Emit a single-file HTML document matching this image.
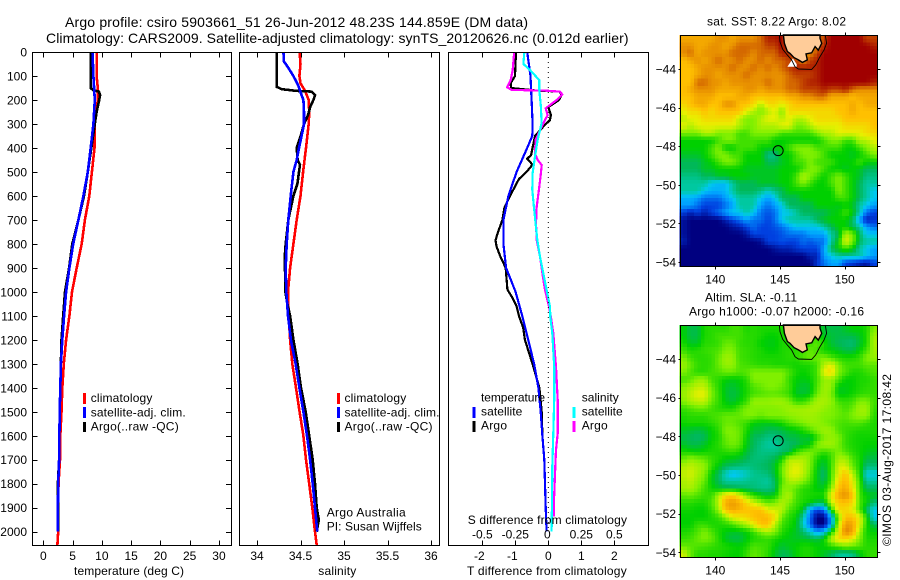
<!DOCTYPE html>
<html lang="en">
<head>
<meta charset="utf-8">
<title>Argo profile chart</title>
<style>
html,body{margin:0;padding:0;background:#fff;}
svg{display:block;font-family:"Liberation Sans",Arial,sans-serif;font-size:12px;fill:#000;}
.t14{font-size:14px;}
</style>
</head>
<body>
<svg id="chart" xmlns="http://www.w3.org/2000/svg" width="900" height="580" viewBox="0 0 900 580">
<rect x="0" y="0" width="900" height="580" fill="#fff"/>
<g id="maps"></g>
<g id="series"></g>
<g id="frames"></g>
<g id="ticklabels"></g>

<text class="t14" x="65" y="27" textLength="463" lengthAdjust="spacing">Argo profile: csiro 5903661_51 26-Jun-2012 48.23S 144.859E (DM data)</text>
<text class="t14" x="46" y="43" textLength="582.5" lengthAdjust="spacing">Climatology: CARS2009. Satellite-adjusted climatology: synTS_20120626.nc (0.012d earlier)</text>

<text x="74" y="575" textLength="110" lengthAdjust="spacing">temperature (deg C)</text>
<text x="318.3" y="575" textLength="38" lengthAdjust="spacing">salinity</text>
<text x="467" y="575" textLength="159.7" lengthAdjust="spacing">T difference from climatology</text>
<text x="467.7" y="524" textLength="159.3" lengthAdjust="spacing">S difference from climatology</text>

<g>
<rect x="83" y="393" width="3" height="11" fill="#f00"/>
<rect x="83" y="407" width="3" height="11" fill="#00f"/>
<rect x="83" y="422" width="3" height="10" fill="#000"/>
<text x="90.7" y="402" textLength="61.7" lengthAdjust="spacing">climatology</text>
<text x="90.7" y="416.5" textLength="95" lengthAdjust="spacing">satellite-adj. clim.</text>
<text x="90.7" y="430.5" textLength="88" lengthAdjust="spacing">Argo(..raw -QC)</text>
</g>
<g>
<rect x="337" y="393" width="3" height="11" fill="#f00"/>
<rect x="337" y="407" width="3" height="11" fill="#00f"/>
<rect x="337" y="422" width="3" height="10" fill="#000"/>
<text x="344.5" y="402" textLength="61.7" lengthAdjust="spacing">climatology</text>
<text x="344.5" y="416.5" textLength="95" lengthAdjust="spacing">satellite-adj. clim.</text>
<text x="344.5" y="430.5" textLength="88" lengthAdjust="spacing">Argo(..raw -QC)</text>
</g>
<g>
<text x="481" y="401.5" textLength="64" lengthAdjust="spacing">temperature</text>
<text x="481" y="415.5" textLength="41.3" lengthAdjust="spacing">satellite</text>
<text x="481" y="429.5" textLength="26" lengthAdjust="spacing">Argo</text>
<rect x="472.5" y="407" width="3" height="11" fill="#00f"/>
<rect x="472.5" y="421" width="3" height="11" fill="#000"/>
<text x="581.7" y="401.5" textLength="37" lengthAdjust="spacing">salinity</text>
<text x="581.7" y="415.5" textLength="41" lengthAdjust="spacing">satellite</text>
<text x="581.7" y="429.5" textLength="26" lengthAdjust="spacing">Argo</text>
<rect x="572.5" y="407" width="3" height="11" fill="#0ff"/>
<rect x="572.5" y="421" width="3" height="11" fill="#f0f"/>
</g>
<text x="326.7" y="516.5" textLength="79" lengthAdjust="spacing">Argo Australia</text>
<text x="326.7" y="530.5" textLength="95" lengthAdjust="spacing">PI: Susan Wijffels</text>

<text x="707" y="25.5" textLength="139" lengthAdjust="spacing">sat. SST: 8.22 Argo: 8.02</text>
<text x="705" y="301.5" textLength="92" lengthAdjust="spacing">Altim. SLA: -0.11</text>
<text x="689" y="315.5" textLength="175" lengthAdjust="spacing">Argo h1000: -0.07 h2000: -0.16</text>
<text transform="translate(891,546) rotate(-90)" x="0" y="0" textLength="172" lengthAdjust="spacing">©IMOS 03-Aug-2017 17:08:42</text>
</svg>

<script>
// ---------- profile data ----------
const depthTicks = [0,100,200,300,400,500,600,700,800,900,1000,1100,1200,1300,1400,1500,1600,1700,1800,1900,2000];
const tempTicks = [0,5,10,15,20,25,30];
const salTicks = [34,34.5,35,35.5,36];
const salTickLabels = ['34','34.5','35','35.5','36'];
const tDiffTicks = [-2,-1,0,1,2];
const tDiffTickLabels = ['-2','-1','0','1','2'];
const sDiffTicks = [-0.5,-0.25,0,0.25,0.5];
const sDiffTickLabels = ['-0.5','-0.25','0','0.25','0.5'];
const lonTicks = [140,145,150];
const latTicks = [-44,-46,-48,-50,-52,-54];

const climDepth = [0,100,150,200,300,400,500,600,700,800,900,1000,1100,1200,1300,1400,1500,1600,1700,1800,1900,2000,2055];
const climTemp = [9.1,9.1,9.3,9.3,8.8,8.75,8.3,7.85,7.1,6.55,5.7,4.9,4.45,3.9,3.5,3.25,3.1,2.9,2.85,2.6,2.55,2.55,2.4];

const satTempDepth = [0,100,200,300,400,500,600,700,800,900,1000,1100,1200,1300,1400,1500,1600,1700,1800,1900,2000];
const satTemp = [8.4,8.55,8.8,8.55,8.1,7.6,6.85,6,5.1,4.45,3.9,3.55,3.25,3,2.9,2.8,2.75,2.7,2.55,2.5,2.5];

const argoTempDepth = [0,100,150,160,165,180,200,250,300,400,500,600,700,800,900,1000,1100,1200,1300,1400,1500,1600,1700,1800,1900,2000];
const argoTemp = [8.1,8.1,8.1,8.55,9.5,9.7,9.55,9.1,8.8,8.2,7.6,6.95,6,4.95,4.4,3.7,3.4,3.1,3,2.9,2.8,2.75,2.7,2.5,2.55,2.55];

const climSalDepth = [0,50,100,130,160,200,250,300,400,500,600,700,800,900,1000,1100,1200,1300,1400,1500,1600,1700,1800,1900,2000,2055];
const climSal = [34.49,34.5,34.487,34.5,34.55,34.594,34.6,34.594,34.563,34.53,34.5,34.456,34.418,34.38,34.356,34.364,34.38,34.406,34.448,34.49,34.533,34.563,34.6,34.636,34.667,34.686];

const satSalDepth = [0,40,60,100,140,180,200,250,300,350,400,450,500,600,700,800,900,1000,1100,1200,1300,1400,1500,1600,1700,1800,1900,2000];
const satSal = [34.303,34.31,34.349,34.418,34.475,34.513,34.533,34.54,34.54,34.513,34.483,34.456,34.418,34.387,34.36,34.341,34.33,34.337,34.356,34.39,34.444,34.487,34.533,34.575,34.61,34.64,34.667,34.693];

const argoSalDepth = [0,100,145,155,162,165,180,200,230,260,300,350,400,450,470,500,550,600,700,800,850,1000,1050,1100,1200,1300,1400,1500,1600,1700,1800,1900,1950,2000];
const argoSal = [34.226,34.226,34.226,34.284,34.456,34.628,34.667,34.648,34.61,34.59,34.54,34.502,34.456,34.467,34.494,34.483,34.464,34.418,34.36,34.33,34.32,34.326,34.349,34.38,34.418,34.467,34.506,34.56,34.6,34.64,34.667,34.686,34.71,34.686];

const satTDiffDepth = [0,100,150,200,300,350,400,500,600,700,800,900,1000,1100,1200,1300,1400,1500,1600,1700,1800,1900,2000];
const satTDiff = [-0.64,-0.54,-0.525,-0.505,-0.475,-0.485,-0.64,-0.96,-1.21,-1.36,-1.36,-1.28,-0.99,-0.79,-0.61,-0.43,-0.3,-0.23,-0.18,-0.12,-0.1,-0.08,-0.05];

const argoTDiffDepth = [0,100,130,150,160,165,180,200,230,263,284,311,350,400,430,445,470,500,530,600,650,700,750,785,810,850,900,990,1020,1060,1100,1150,1200,1300,1400,1500,1600,1700,1800,1900,2000];
const argoTDiff = [-0.98,-1.01,-1.14,-1.13,-0.4,0.35,0.4,0.32,0,0.08,0.05,-0.15,-0.4,-0.48,-0.52,-0.64,-0.48,-0.66,-0.89,-1.16,-1.33,-1.39,-1.52,-1.6,-1.57,-1.46,-1.29,-1.24,-1.11,-0.96,-0.89,-0.76,-0.71,-0.48,-0.27,-0.2,-0.18,-0.12,-0.1,-0.08,-0.05];

const satSDiffDepth = [0,50,75,117,158,228,297,367,436,506,575,645,714,784,853,923,992,1062,1104,1173,1312,1451,1590,1729,1868,2000];
const satSDiff = [-0.182,-0.189,-0.139,-0.068,-0.068,-0.056,-0.051,-0.081,-0.101,-0.119,-0.121,-0.109,-0.096,-0.083,-0.063,-0.038,-0.013,0.013,0.015,0.03,0.045,0.045,0.038,0.03,0.028,0.025];

const argoSDiffDepth = [0,75,117,147,158,161,165,177,200,235,263,284,311,367,423,450,471,506,575,645,714,784,853,923,992,1062,1104,1173,1312,1451,1590,1659,1729,1868,1937];
const argoSDiff = [-0.258,-0.27,-0.285,-0.311,-0.278,-0.025,0.088,0.106,0.063,-0.02,-0.005,-0.025,-0.05,-0.096,-0.101,-0.081,-0.05,-0.056,-0.071,-0.088,-0.093,-0.088,-0.063,-0.045,-0.025,0.005,0.02,0.038,0.058,0.071,0.071,0.058,0.053,0.043,0.043];

// ---------- map data (colour-scale level per cell; rows north to south) ----------
const sstGrid = [
[7.5,7.5,7.5,7.5,7.5,8,8,7.5,8,8,8,8.5,9.5,9.5,10,8,8,8,8,8,9,10,10,10,10,10,9,9],
[8,8,7.5,7.5,8,8,7.5,8,8.5,8.5,8.5,8.5,9,9,10,8,8,8,8,8,9.5,10,10,10,10,10,10,9.5],
[8,8.5,7.5,8,8,8,8,8.5,8.5,8.5,8,8.5,8.5,8.5,9.5,9.5,8,8,8,9,10,10,10,10,10,10,10,10],
[7,7.5,8,7.5,8,8.5,8,8,8.5,8,8,8.5,8,8.5,8.5,9,9,8,9,9.5,10,10,10,10,10,10,10,10],
[7,7,7.5,8,8,8,8,8.5,8,8,8.5,8,8.5,8,8.5,9,9.5,9.5,9.5,9.5,10,10,10,10,10,10,10,10],
[7,7,7.5,8,8,7.5,8,8,8,8.5,8,8,8,8,8,8.5,9,9,9,9.5,10,10,10,10,10,10,10,10],
[7,7,8.5,8.5,8,8,7.5,8,8,8,8,8,8.5,8,8,8.5,8.5,9,9.5,9.5,10,10,10,10,10,10,10,9.5],
[7,7.5,8,8,8,7.5,7.5,7.5,7.5,8,8,7.5,8,8,8,8.5,8.5,9,9,9,9.5,9,9,9.5,8.5,8,8,8],
[7,7,7.5,7.5,7.5,7,7,7,7.5,7.5,7,7,7,7,7,7.5,7.5,8,8,8.5,8.5,7.5,7.5,7.5,7,7.5,7.5,7.5],
[6.5,7,7.5,7.5,7,7,8,8,7,7,6.5,5.5,6.5,6.5,6,6.5,7,7,7,7,7,7,7,7,7.5,7,7.5,7.5],
[6,6.5,6.5,7,6.5,7,7,7,7,6,5.5,5,5.5,6,5,6.5,6.5,6.5,6.5,6.5,6.5,6.5,7,7,7.5,7,7,7],
[5.5,6,6,6.5,6.5,6.5,6.5,6.5,5.5,5,5,5.5,6,6,5.5,6,5.5,5.5,6,6.5,6.5,6.5,6.5,7,7,7,7,7],
[6,5.5,6,6,6,6,6,6,5.5,5,5,5.5,5.5,5.5,6,6,5,5,5.5,6,6,6,6,6.5,6.5,6.5,6.5,7],
[5,5,5,5.5,5.5,5,5,5,4.5,4.5,5,5,5,5,4.5,4.5,4.5,4.5,4.5,5,5.5,5.5,6,6,6,6,6.5,6.5],
[4,4,4,4,4,4.5,5,5,4.5,4.5,4.5,4.5,4.5,4,4,4,4,4,4,4,4.5,5,5,4.5,4.5,5.5,5.5,6],
[4,4,4,4,4.5,5,4,4,4.5,4.5,4.5,4,4,4,4,4.5,5,5,5,4.5,4.5,4.5,4.5,4,4,4.5,5,5.5],
[3.8,3.8,3.8,4,4.5,5,5,4.5,4.5,4,4,4,3.2,3.2,4,4,4.5,5,5,5,4.5,4,4,4,3.8,4,4.5,5],
[3.5,3.5,3.5,3.8,4,4.5,5,5,4.5,4,4,4,3.5,3.5,3.8,4,4.5,4.5,5,4.5,4.5,4.5,4,4,4,4.5,4,4],
[3.5,3.5,3.5,3.8,3.8,4,4,4,4,3.8,3.8,3.8,3.8,3.8,4,4,4,4.5,5,5,4.5,4,4,3.8,4,3.8,3.5,3.5],
[3.2,3.2,3.2,3.5,3.5,3.8,3.8,4,4,4,3.8,3.8,3.8,3.8,4,4,4.5,5.5,5,4.5,4,4.5,5,4.5,4,3.8,3.2,3.2],
[3,3,3,3,2.5,2.3,2.3,3,3.5,3.5,3.5,3.8,3.8,3.8,4,4,4.5,5,4.5,4,4,4.5,5,4.5,4,3.5,3,3],
[3,3,3,2.5,2.2,2.2,2.3,3,3.5,3.5,3.5,3.2,2.8,3.2,3.5,4,4,4,4,4,4,4,5,4.5,4,3.5,3,2.5],
[2.2,2.2,2,1.5,1.5,1.5,2,2.5,3,3,3,2.5,2,2.5,3.5,3.5,3.5,4,4,4,4,4,4.5,4.5,4,3.5,3,2.5],
[2,2,1.5,1,1,1,1.5,2,3,3,3,2,1.5,2,2.5,3.5,3.5,3.5,3.5,4,4,4,3.8,4,3.8,3,2.5,2],
[1,0.5,1,0.5,1,1.5,2,2.5,2.5,3,2.5,1.5,1.2,1.5,2.5,2.5,3,3.5,3.5,3.5,3.5,3.8,4,4.5,4,3,1.5,1],
[0.3,0,0,0,0,0,0.5,1,1.5,2,1.5,1.5,1,1.5,2.5,3,3,3,3,3.5,3.8,4,4,4,3.5,2,0.5,0.8],
[0.3,0,0,0,0,0,0,0.3,0.5,1,1.5,1,1,1.2,1.5,2,2.5,2.5,2.5,2.5,3,3.5,4,4,3.5,3,2,1.5],
[0.3,0,0,0,0,0,0,0,0,0.3,1,1,1,1,1.2,1.5,1.5,1.5,2,2,2,3,3.5,5.5,5,3.5,2.5,2.5],
[0.5,0,0,0,0,0,0,0,0,0,0,0.2,1,1,1.2,1,1,1.5,1.2,1.5,1.5,3,4,6,5,3.5,3,3],
[0,0,0,0,0,0,0,0,0,0,0,0,0,0.3,0.5,0.5,0.8,1,1,1,2,3.5,4,4.5,4,3,2.5,2],
[0,0,0,0,0,0,0,0,0,0,0,0,0,0,0,0,0,0,0.5,0.5,2,2.5,3,3,3,3,2.5,2],
[0,0,0,0,0,0,0,0,0,0,0,0,0,0,0,0,0,0,0,0.8,1.5,2,2,1,0.8,0.5,0.3,1]
];
const slaGrid = [
[4,3.6,3.6,4.2,4.3,4.3,4.3,4.5,4.5,4.2,4.3,4.2,4.2,4.2,4.2,4,4,4,4,4,3.7,3.6,3.6,3.8,4,4,4.2,5],
[4,3.6,3.6,4.2,4.3,4.5,4.5,4.5,4.5,4.3,4.3,4.2,4,4,4.2,4.2,4,4,4,4.2,3.8,3.7,3.6,3.6,3.6,3.8,4.2,5.3],
[4.2,3.8,3.8,4.3,4.3,4.4,4.8,4.8,4.4,4.3,4.3,4,3.9,3.9,4.2,4.2,4,4,4.4,4.8,4.2,3.7,3.5,3.4,3.3,3.7,4.2,5.4],
[4.5,4.2,4.3,4.4,4.5,4.6,5,5,4.5,4.4,4.3,4.2,4,4,4.2,4.3,4.3,4.5,4.8,4.5,4.1,4,3.8,3.6,3.6,4,4.5,5.3],
[5,4.5,4.3,4.3,4.4,4.8,5.3,5.2,4.5,4.4,4.3,4.2,4.2,4.2,4.2,4.3,4.3,4.6,4.8,4.8,5,4.6,4.3,4.2,4.2,4.4,5,5.2],
[5.3,4.8,4.4,4.3,4.4,4.8,5.2,5.2,4.6,4.5,4.4,4.3,4.3,4.2,4.2,4.2,4.1,4.2,4.2,4.5,5.5,6,5,4.5,4.5,4.5,4.7,4.7],
[5,4.6,4.3,4.3,4.5,4.6,4.8,4.8,4.6,4.7,5,5,5,5,5,4.6,4.2,4,4.2,4.5,6,6.5,5,4.6,4.2,4.2,4.4,4.6],
[4.5,4.7,5.2,5.2,4.5,4.3,4,3.9,4,4.3,5,5,5,5,5,4.4,4,3.9,4,4.5,5.2,5.2,4.6,4,4,4.2,4.2,4.4],
[5,5.3,5.6,5.6,4.8,4.3,3.8,3.7,3.9,4.2,4.6,4.8,5,5,4.8,4.5,3.9,3.7,3.8,4.6,5.3,5.2,3.9,3.9,4,4.2,4.3,4.4],
[5.2,5.6,6,6,5,4.4,3.8,3.6,3.8,4.2,4.5,4.6,4.7,4.7,4.6,4.4,3.8,3.7,3.9,4.8,5.3,5,3.9,3.9,4.1,4.3,4.4,4.4],
[5,5.4,5.6,5.6,4.8,4.4,3.9,3.7,4,4.4,5.2,5.2,5.2,5.3,5.3,5,4.4,4.4,4.8,5.4,5.4,5.2,4.5,4.4,4.5,5,5,4.5],
[4.4,4.6,4.8,4.8,4.5,4.3,4.2,4.2,4.6,5,5,5,5,5,5.1,5.3,5.3,5.3,5.4,5.4,5.2,5,4.8,4.5,4.8,5.3,5.3,4.4],
[4.2,4.3,4.3,4.3,4.5,4.6,4.8,4.8,4.8,5,5,4.8,5,5,5,5.1,5.2,5.3,5.3,5.2,5,5,4.8,4.7,5,5.2,5.2,4.3],
[4.1,4.2,4.2,4.2,4.3,4.5,4.8,4.8,4.6,4.4,4,3.9,3.9,4,4.2,4.6,4.8,5,5.2,5.2,5,4.8,4.6,4.5,4.6,4.6,4.4,4.2],
[3.8,3.7,3.6,3.7,4,4.3,5,5,4.8,4.2,3.7,3.7,3.5,3.5,3.6,3.8,3.9,4.2,4.6,5,5.3,5.2,4.6,4.4,4.3,4.2,4.2,4.2],
[3.6,3.5,3.4,3.5,4,4.2,4.8,5,4.8,4,3.5,3.4,3.2,3.2,3.4,3.6,3.6,3.8,3.6,4.3,5,5.2,5,4.4,4.2,4.1,4.1,4.1],
[3.8,3.6,3.6,3.8,4.1,4.3,4.7,4.9,4.7,3.9,3.5,3.2,3,3,3.3,3.4,3.5,3.8,4,5,5.3,5.3,4.9,4.4,4.2,4.1,4,4],
[4.2,4.1,4,4.1,4.2,4.2,4.3,4.4,4.2,3.7,3.4,3.2,3.2,3.2,3.4,3.5,4.4,4.8,5,4.7,4.4,4.6,5,4.6,4.3,4.1,3.9,3.8],
[4.8,5.2,5,4.8,4.4,4.2,3.9,3.8,3.7,3.5,3.3,3.3,3.4,3.6,4.2,5.5,5.5,5.5,5,4.2,3.8,4.4,5.4,5.4,4.6,4.2,3.6,3.6],
[5.4,5.6,5.4,5.2,4.4,3.9,3.5,3.4,3.3,3.2,3.3,3.4,3.5,3.8,4.8,5.6,6,5.6,5,4,3.6,4.4,5.8,5.8,4.8,4.2,3.3,3.3],
[5.6,5.8,5.4,5,4,3.5,2.8,2.3,2.5,2.8,3.1,3.2,3.3,3.7,4.8,5.8,6,5.6,4.8,3.9,3.3,4.5,6,7,5.5,4.3,2.6,2.6],
[5.4,5.6,5.2,4.8,3.9,3.5,3,3,3,3.1,3.2,3.1,3,3.5,4.6,5.4,5.5,5.1,4.6,3.9,3.5,4.5,6.5,7.2,6,4.5,3,3],
[5.3,5.4,5,4.5,4.1,3.8,3.7,3.6,3.5,3.4,3.3,3.2,3.2,3.4,5,5,4.7,4.3,4.2,3.9,3.9,5,7,7.5,6.3,4.5,3.5,3.5],
[4.7,4.8,4.6,4.4,4.4,5.4,6.5,6.8,6,5,4.4,4,3.8,4,5,5.5,4.6,4.3,4.2,4.2,4.2,6,7.5,8,7,4.5,4,3.8],
[4.3,4.3,4.2,4.2,4.6,5.5,7.4,7.8,7.4,6.5,5.8,5.2,4.8,5,5.5,5,4.5,4.2,4,3.6,3.6,5.5,6.8,7,6.5,4.6,4,3.3],
[4.1,4.1,4,4,4.4,5.2,7,7.5,7.2,7,7,7,6,5.8,5.5,4.6,4.3,3.8,2,1,1.5,4,6.5,6.5,6,4.6,3.4,2.5],
[4,4,4,4,4.2,4.4,5,6,6.2,6.5,7,7.2,7.2,6.4,4.8,4.3,4,3,1.5,0,0,2,5,7,7,6,4.3,2.5],
[4,4,4.4,4.4,4.2,4.2,4.3,4.5,5,5.4,6,7,7,5.5,4.5,4.2,3.9,2.8,1.5,0,0,2,5.5,7.8,7.6,6,4.2,3.5],
[4.2,4.3,4.6,5,4.6,4.2,3.9,3.8,3.8,4,4.4,5,5.3,5,4.3,4,3.8,3.4,2.8,2,2.5,4,6,8.3,7.6,5.3,4.1,4],
[4.4,4.5,4.8,5,4.8,4.3,3.8,3.6,3.6,3.9,4.2,4.3,4.4,4.2,4,3.9,3.8,3.8,3.7,3.6,4,5.5,6.5,6.5,6,5,4.2,4.2],
[4.8,4.7,4.6,4.5,4.4,4.3,4.2,4.1,4,4.2,4.6,4.5,4.4,4,3.7,3.9,4,4.2,4.2,4,4,4.3,4.6,5,4.8,4.6,4.3,4.3],
[5.8,4.8,4.3,4.3,4.2,4.2,4.1,4,4,4.4,4.8,4.6,4.3,3.8,3.5,3.6,4,4.2,4.2,4,3.8,3.5,3.1,3,3.2,3.8,4.3,4.4]
];
const coastLon = [145.26,145.34,145.57,145.77,146.08,146.42,146.73,147.11,147.01,147.45,147.71,147.96,148.22,148.09,148.09];
const coastLat = [-42.24,-42.67,-43.1,-43.19,-43.41,-43.53,-43.66,-43.53,-43.22,-43.16,-42.84,-43.02,-42.67,-42.41,-42.24];
const contourLon = [144.95,145.0,145.21,145.57,145.9,146.16,146.42,147.45,147.76,148.09,148.4,148.6,148.5];
const contourLat = [-42.24,-42.59,-42.98,-43.28,-43.53,-43.88,-44,-44.02,-43.79,-43.36,-43.02,-42.67,-42.24];
const missingLon = [145.57,146.0,146.29,146.29,145.57];
const missingLat = [-43.88,-43.45,-43.75,-43.88,-43.88];
const floatLon = 144.859;
const floatLat = -48.23;

// ---------- scales ----------
const NS = 'http://www.w3.org/2000/svg';
const depthY = d => 52 + d * 0.23985;
const tempX = t => 43.3 + t * 5.855;
const salX = s => 257 + (s - 34) * 87;
const diffX = t => 548.3 + t * 33;
const sDiffX = s => diffX(s * 4);
const lonX = lon => 715.3 + (lon - 140) * 12.94;
const sstY = lat => 69 + (-44 - lat) * 19.3;
const slaY = lat => 359 + (-44 - lat) * 19.33;
const gridLonMin = 137.25, gridLonMax = 152.5, gridLatTop = -42.25, gridLatBottom = -54.25;

const colourStops = [
 [0,[0,0,128]],[1,[0,64,224]],[2,[0,160,255]],[2.5,[0,200,240]],[3,[0,200,160]],[3.5,[0,184,88]],
 [4,[0,208,0]],[5,[128,240,0]],[6,[232,240,0]],[7,[255,192,0]],[8,[232,144,0]],[9,[192,64,0]],[10,[160,0,0]]
];
function levelColour(v){
  for (let i = 1; i < colourStops.length; i++){
    if (v <= colourStops[i][0]){
      const a = colourStops[i-1], b = colourStops[i];
      const f = (v - a[0]) / (b[0] - a[0]);
      const c = a[1].map((x, k) => Math.round(x + (b[1][k] - x) * f));
      return 'rgb(' + c.join(',') + ')';
    }
  }
  return 'rgb(160,0,0)';
}
function mk(tag, parent, attrs){
  const e = document.createElementNS(NS, tag);
  for (const k in attrs) e.setAttribute(k, attrs[k]);
  parent.appendChild(e);
  return e;
}
function pathFrom(xs, ys){
  return xs.map((x, i) => (i ? 'L' : 'M') + x.toFixed(1) + ' ' + ys[i].toFixed(1)).join('');
}

// ---------- series ----------
const seriesG = document.getElementById('series');
function drawLine(values, depths, xf, colour, name, width){
  const p = mk('path', seriesG, {
    d: pathFrom(values.map(xf), depths.map(depthY)),
    fill: 'none', stroke: colour, 'stroke-width': width, 'stroke-linejoin': 'miter', 'shape-rendering': 'crispEdges'
  });
  
  
}
drawLine(climTemp, climDepth, tempX, '#f00', 'temperature-climatology-line', 2.6);
drawLine(argoTemp, argoTempDepth, tempX, '#000', 'temperature-argo-line', 2.6);
drawLine(satTemp, satTempDepth, tempX, '#00f', 'temperature-satellite-line', 2.6);
drawLine(climSal, climSalDepth, salX, '#f00', 'salinity-climatology-line', 2.6);
drawLine(argoSal, argoSalDepth, salX, '#000', 'salinity-argo-line', 2.6);
drawLine(satSal, satSalDepth, salX, '#00f', 'salinity-satellite-line', 2.6);
drawLine(argoTDiff, argoTDiffDepth, diffX, '#000', 't-difference-argo-line', 2.2);
drawLine(satTDiff, satTDiffDepth, diffX, '#00f', 't-difference-satellite-line', 2.2);
drawLine(argoSDiff, argoSDiffDepth, sDiffX, '#f0f', 's-difference-argo-line', 2.2);
drawLine(satSDiff, satSDiffDepth, sDiffX, '#0ff', 's-difference-satellite-line', 2.2);

// ---------- zero line ----------
const framesG = document.getElementById('frames');
const zeroLine = mk('line', seriesG, {x1: diffX(0), x2: diffX(0), y1: depthY(0), y2: depthY(2000), stroke: '#000', 'stroke-width': 1, 'stroke-dasharray': '1 4'});



// ---------- frames and ticks ----------
function drawFrame(x0, x1, y0, y1, name){
  const r = mk('rect', framesG, {x: x0, y: y0, width: x1 - x0, height: y1 - y0, fill: 'none', stroke: '#000', 'stroke-width': 1, 'shape-rendering': 'crispEdges'});
  
  
}
function tick(x1, y1, x2, y2){
  const l = mk('line', framesG, {x1: x1, y1: y1, x2: x2, y2: y2, stroke: '#000', 'stroke-width': 1, 'shape-rendering': 'crispEdges'});
  
  
}
const labelsG = document.getElementById('ticklabels');
function label(x, y, str, anchor){
  const t = mk('text', labelsG, {x: x, y: y, 'text-anchor': anchor});
  t.textContent = str;
  
  
}
const panelTop = 52.5, panelBottom = 545.5;
drawFrame(32.5, 231.5, panelTop, panelBottom, 'temperature-panel-frame');
drawFrame(239.5, 439.5, panelTop, panelBottom, 'salinity-panel-frame');
drawFrame(448.5, 648.5, panelTop, panelBottom, 'difference-panel-frame');

depthTicks.forEach(d => {
  const y = Math.round(depthY(d)) + 0.5;
  tick(32.5, y, 37.5, y);
  tick(226, y, 231.5, y);
  label(27, depthY(d) + 4.5, String(d), 'end');
});
tempTicks.forEach(t => {
  const x = Math.round(tempX(t)) + 0.5;
  tick(x, panelTop, x, panelTop + 5);
  tick(x, panelBottom, x, panelBottom - 5);
  label(tempX(t), 560, String(t), 'middle');
});
salTicks.forEach((s, i) => {
  const x = Math.round(salX(s)) + 0.5;
  tick(x, panelTop, x, panelTop + 5);
  tick(x, panelBottom, x, panelBottom - 5);
  label(salX(s), 560, salTickLabels[i], 'middle');
});
tDiffTicks.forEach((t, i) => {
  const x = Math.round(diffX(t)) + 0.5;
  tick(x, panelTop, x, panelTop + 5);
  tick(x, panelBottom, x, panelBottom - 5);
  label(diffX(t) - (t < 0 ? 3 : 0), 560, tDiffTickLabels[i], 'middle');
});
sDiffTicks.forEach((s, i) => {
  label(sDiffX(s) + (s === 0 ? -1 : 0), 538.5, sDiffTickLabels[i], 'middle');
});

// ---------- maps ----------
const mapsG = document.getElementById('maps');
// bilinear read of a grid at fractional cell coordinates
function sampleGrid(grid, fr, fc){
  const rows = grid.length, cols = grid[0].length;
  const r = Math.max(0, Math.min(rows - 1, fr)), c = Math.max(0, Math.min(cols - 1, fc));
  const r0 = Math.floor(r), c0 = Math.floor(c);
  const r1 = Math.min(rows - 1, r0 + 1), c1 = Math.min(cols - 1, c0 + 1);
  const dr = r - r0, dc = c - c0;
  return (grid[r0][c0] * (1 - dc) + grid[r0][c1] * dc) * (1 - dr) + (grid[r1][c0] * (1 - dc) + grid[r1][c1] * dc) * dr;
}
function drawHeat(grid, yf, name, sub){
  const rows = grid.length * sub, cols = grid[0].length * sub;
  for (let r = 0; r < rows; r++){
    const latA = gridLatTop + (gridLatBottom - gridLatTop) * r / rows;
    const latB = gridLatTop + (gridLatBottom - gridLatTop) * (r + 1) / rows;
    for (let c = 0; c < cols; c++){
      const lonA = gridLonMin + (gridLonMax - gridLonMin) * c / cols;
      const lonB = gridLonMin + (gridLonMax - gridLonMin) * (c + 1) / cols;
      const v = sampleGrid(grid, (r + 0.5) / sub - 0.5, (c + 0.5) / sub - 0.5);
      const cell = mk('rect', mapsG, {
        x: lonX(lonA).toFixed(2), y: yf(latA).toFixed(2),
        width: (lonX(lonB) - lonX(lonA) + 0.4).toFixed(2),
        height: (yf(latB) - yf(latA) + 0.4).toFixed(2),
        fill: levelColour(v), 'shape-rendering': 'crispEdges'
      });
      
      
    }
  }
}
function drawMapOverlay(yf, frameX0, frameX1, frameY0, frameY1, prefix, withGap){
  if (withGap){
    const gap = mk('path', mapsG, {d: pathFrom(missingLon.map(lonX), missingLat.map(yf)) + 'Z', fill: '#fff'});
    
    
  }
  const land = mk('path', mapsG, {d: pathFrom(coastLon.map(lonX), coastLat.map(yf)) + 'Z', fill: '#ffcc99', stroke: '#000', 'stroke-width': 1.4});
  
  
  const contour = mk('path', mapsG, {d: pathFrom(contourLon.map(lonX), contourLat.map(yf)), fill: 'none', stroke: '#000', 'stroke-width': 0.9});
  
  
  const marker = mk('circle', mapsG, {cx: lonX(floatLon), cy: yf(floatLat), r: 5, fill: 'none', stroke: '#000', 'stroke-width': 1});
  
  
  const frame = mk('rect', mapsG, {x: frameX0, y: frameY0, width: frameX1 - frameX0, height: frameY1 - frameY0, fill: 'none', stroke: '#000', 'stroke-width': 1, 'shape-rendering': 'crispEdges'});
  
  
  lonTicks.forEach(lon => {
    const x = Math.round(lonX(lon)) + 0.5;
    tick(x, frameY0 - 3, x, frameY0);
    tick(x, frameY1, x, frameY1 + 3);
    label(lonX(lon), frameY1 + 17, String(lon), 'middle');
  });
  latTicks.forEach(lat => {
    const y = Math.round(yf(lat)) + 0.5;
    tick(frameX1, y, frameX1 + 3, y);
    tick(frameX0 - 2, y, frameX0, y);
    label(676, yf(lat) + 4.5, String(lat).replace('-', '\u2212'), 'end');
  });
}
drawHeat(sstGrid, sstY, 'sst-heatmap-cell', 2);
drawMapOverlay(sstY, 680.5, 877.5, 35.5, 266.5, 'sst', true);
drawHeat(slaGrid, slaY, 'sla-heatmap-cell', 2);
drawMapOverlay(slaY, 680.5, 877.5, 325.5, 557.5, 'sla', false);
</script>
</body>
</html>
